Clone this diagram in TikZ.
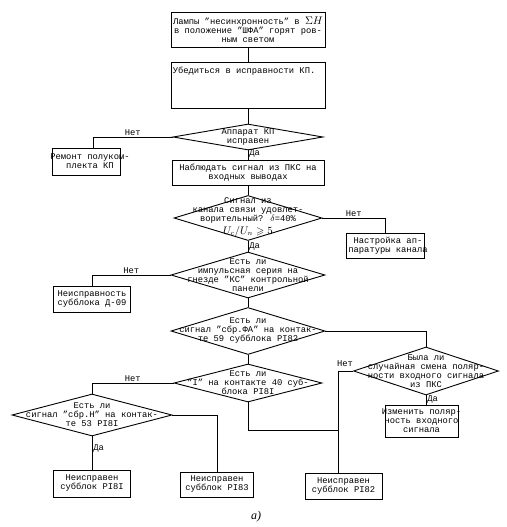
\documentclass[tikz,border=0pt]{standalone}
\usepackage{fontspec}
\usepackage{amssymb}
\setmainfont{Liberation Mono}
\newfontfamily\capfont{Liberation Serif}
\usetikzlibrary{shapes.geometric}
\newcommand\twfont{\fontsize{8.8}{9}\selectfont}
\begin{document}
\begin{tikzpicture}[x=1pt,y=-1pt,
  every node/.style={font=\twfont},
  box/.style={draw, line width=0.9pt, inner sep=0pt},
  dia/.style={draw, diamond, line width=0.9pt, inner sep=0pt},
  txt/.style={align=center, inner sep=0pt},
  lbl/.style={inner sep=1pt},
  conn/.style={line width=0.8pt}]
\useasboundingbox (0,0) rectangle (506,527);

% boxes
\node[box, minimum width=154pt, minimum height=35pt] (t1) at (248,29.5) {};
\node[txt] (t1t) at (t1) {Лампы "несинхронность" в {\fontsize{10.5}{9}\selectfont$\Sigma H$}\\в положение "ШФА" горят ров-\\ным светом};
\node[box, minimum width=154pt, minimum height=46pt] (t2) at (248,85) {};
\node[txt, anchor=north west] (t2t) at ([xshift=2pt,yshift=-5pt]t2.north west) {Убедиться в исправности КП.};

\node[dia, minimum width=150pt, minimum height=26pt] (d1) at (248,137) {};
\node[txt] (d1t) at (d1) {Аппарат КП\\исправен};

\node[box, minimum width=68pt, minimum height=27pt] (r1) at (86,161.5) {};
\node[txt] (r1t) at ([xshift=4pt]r1.center) {Ремонт полуком-\\плекта КП};

\node[box, minimum width=152pt, minimum height=25pt] (n1) at (248,172.5) {};
\node[txt] (n1t) at (n1) {Наблюдать сигнал из ПКС на\\входных выводах};

\node[dia, minimum width=148pt, minimum height=45pt] (d2) at (248,218) {};
\node[txt] (d2t) at ([yshift=1pt]d2.center) {Сигнал из\\канала связи удовлет-\\ворительный? $\delta$=40\%\\[2pt]{\fontsize{10.5}{9}\selectfont$U_c/U_n\geqslant 5$}};

\node[box, minimum width=78pt, minimum height=25pt] (c1) at (385,245.5) {};
\node[txt] (c1t) at ([xshift=3pt]c1.center) {Настройка ап-\\паратуры канала};

\node[dia, minimum width=154pt, minimum height=46pt] (d3) at (248,275) {};
\node[txt] (d3t) at (d3) {Есть ли\\импульсная серия на\\гнезде "КС" контрольной\\панели};

\node[box, minimum width=77pt, minimum height=26pt] (e1) at (92,299) {};
\node[txt] (e1t) at (e1) {Неисправность\\субблока Д-09};

\node[dia, minimum width=154pt, minimum height=47pt] (d4) at (248,331) {};
\node[txt] (d4t) at (d4) {Есть ли\\сигнал "сбр.ФА" на контак-\\те 59 субблока РI82};

\node[dia, minimum width=145pt, minimum height=48pt] (d5) at (426,371) {};
\node[txt] (d5t) at (d5) {Была ли\\случайная смена поляр-\\ности входного сигнала\\из ПКС};

\node[box, minimum width=73pt, minimum height=32pt] (g1) at (421.5,421) {};
\node[txt] (g1t) at (g1) {Изменить поляр-\\ность входного\\сигнала};

\node[dia, minimum width=148pt, minimum height=38pt] (d6) at (248,383) {};
\node[txt] (d6t) at (d6) {Есть ли\\"I" на контакте 40 суб-\\блока РI8I};

\node[dia, minimum width=160pt, minimum height=42pt] (d7) at (92,415) {};
\node[txt] (d7t) at (d7) {Есть ли\\сигнал "сбр.Н" на контак-\\те 53 РI8I};

\node[box, minimum width=77pt, minimum height=27pt] (f1) at (92,483.5) {};
\node[txt] (f1t) at (f1) {Неисправен\\субблок РI8I};
\node[box, minimum width=73pt, minimum height=25pt] (f2) at (217,484.5) {};
\node[txt] (f2t) at (f2) {Неисправен\\субблок РI83};
\node[box, minimum width=77pt, minimum height=26pt] (f3) at (343.5,486) {};
\node[txt] (f3t) at (f3) {Неисправен\\субблок РI82};

\node (cap) at (256,517) {\capfont\itshape\fontsize{12}{12}\selectfont a)};

\coordinate (jn) at ([xshift=-5pt]f3.north);
\coordinate (jm) at (338.5,430);

% connectors
\draw[conn] (t1.south) -- (t2.north);
\draw[conn] (t2.south) -- (d1.north);
\draw[conn] (d1.south) -- node[lbl, right, pos=0.35] {Да} (n1.north);
\draw[conn] (d1.west) -| node[lbl, above, pos=0.25] {Нет} ([xshift=7pt]r1.north);
\draw[conn] (n1.south) -- (d2.north);
\draw[conn] (d2.east) -| node[lbl, above, pos=0.25] {Нет} (c1.north);
\draw[conn] (d2.south) -- node[lbl, right, pos=0.5] {Да} (d3.north);
\draw[conn] (d3.west) -| node[lbl, above, pos=0.25] {Нет} (e1.north);
\draw[conn] (d3.south) -- (d4.north);
\draw[conn] (d4.east) -| (d5.north);
\draw[conn] (d4.south) -- (d6.north);
\draw[conn] (d5.south) -- node[lbl, right, pos=0.4] {Да} (d5.south |- g1.north);
\draw[conn] (d5.west) -| (jn);
\node[lbl, anchor=south] (d5no) at ([xshift=-8pt,yshift=3pt]d5.west) {Нет};
\draw[conn] (d6.south) |- (jm);
\draw[conn] (d6.west) -| node[lbl, above, pos=0.25] {Нет} (d7.north);
\draw[conn] (d7.east) -| (f2.north);
\draw[conn] (d7.south) -- node[lbl, right, pos=0.35] {Да} (f1.north);
\end{tikzpicture}
\end{document}
